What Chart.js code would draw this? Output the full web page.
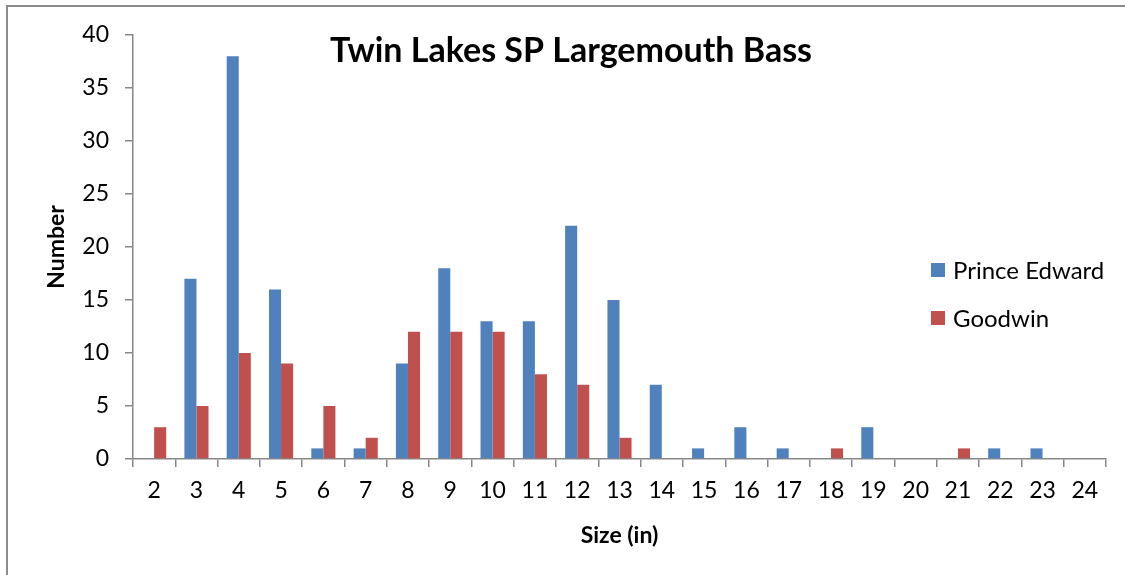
<!DOCTYPE html>
<html>
<head>
<meta charset="utf-8">
<script src="https://cdn.jsdelivr.net/npm/chart.js@4.4.1/dist/chart.umd.min.js"></script>
<style>
  html, body { margin: 0; padding: 0; background: #ffffff; }
  #wrap { position: relative; width: 1125px; height: 575px; }
</style>
</head>
<body>
<div id="wrap"><canvas id="bassChart" width="1125" height="575"></canvas></div>
<script>
// Chart data
const sizes = ['2', '3', '4', '5', '6', '7', '8', '9', '10', '11', '12', '13', '14', '15', '16', '17', '18', '19', '20', '21', '22', '23', '24'];
const princeEdward = [0, 17, 38, 16, 1, 1, 9, 18, 13, 13, 22, 15, 7, 1, 3, 1, 0, 3, 0, 0, 1, 1, 0];
const goodwin = [3, 5, 10, 9, 5, 2, 12, 12, 12, 8, 7, 2, 0, 0, 0, 0, 1, 0, 0, 1, 0, 0, 0];
const yTicks = [0, 5, 10, 15, 20, 25, 30, 35, 40];

const chartTitle = 'Twin Lakes SP Largemouth Bass';
const fontFamily = 'Lato, "Liberation Sans", sans-serif';
const axisGray = '#878787';

// Frame, title and legend drawn inside the plot, like the spreadsheet chart
const overlayPlugin = {
    id: 'overlay',
    beforeDraw(chart) {
        const ctx = chart.ctx;
        ctx.save();
        ctx.strokeStyle = '#8c8c8c';
        ctx.lineWidth = 2;
        ctx.strokeRect(7, 6, 1140, 600);
        ctx.restore();
    },
    afterDraw(chart) {
        const ctx = chart.ctx;
        ctx.save();
        ctx.fillStyle = '#000000';
        ctx.font = 'bold 34px ' + fontFamily;
        ctx.textAlign = 'center';
        ctx.textBaseline = 'middle';
        ctx.fillText(chartTitle, 571, 51);

        // legend
        ctx.font = '24px ' + fontFamily;
        ctx.textAlign = 'left';
        chart.data.datasets.forEach((ds, i) => {
            const y = 270 + i * 48;
            ctx.fillStyle = ds.backgroundColor;
            ctx.fillRect(931, y - 7, 14, 14);
            ctx.fillStyle = '#000000';
            ctx.fillText(ds.label, 953, y + 1);
        });
        ctx.restore();
    }
};

const chartCtx = document.getElementById('bassChart').getContext('2d');
const bassChart = new Chart(chartCtx, {
    type: 'bar',
    data: {
        labels: sizes,
        datasets: [
            {
                label: 'Prince Edward',
                data: princeEdward,
                backgroundColor: '#4F81BD',
                borderWidth: 0,
                categoryPercentage: 0.57,
                barPercentage: 1.0
            },
            {
                label: 'Goodwin',
                data: goodwin,
                backgroundColor: '#C0504D',
                borderWidth: 0,
                categoryPercentage: 0.57,
                barPercentage: 1.0
            }
        ]
    },
    options: {
        responsive: false,
        animation: false,
        layout: {
            padding: { left: 0, right: 19, top: 35, bottom: 0 }
        },
        plugins: {
            legend: { display: false },
            title: { display: false },
            tooltip: { enabled: false }
        },
        scales: {
            x: {
                offset: true,
                grid: {
                    offset: true,
                    drawOnChartArea: false,
                    drawTicks: true,
                    tickLength: 8,
                    color: axisGray,
                    lineWidth: 1.5
                },
                border: { color: axisGray, width: 1.5 },
                ticks: {
                    color: '#000000',
                    font: { family: fontFamily, size: 23 },
                    padding: 10,
                    maxRotation: 0,
                    autoSkip: false
                },
                title: {
                    display: true,
                    text: 'Size (in)',
                    color: '#000000',
                    font: { family: fontFamily, size: 23, weight: 'bold' },
                    padding: { top: 0, bottom: 26 }
                },
                afterFit(scale) {
                    scale.height = 116;
                }
            },
            y: {
                min: 0,
                max: 40,
                afterBuildTicks(scale) {
                    scale.ticks = yTicks.map(v => ({ value: v }));
                },
                grid: {
                    drawOnChartArea: false,
                    drawTicks: true,
                    tickLength: 8,
                    color: axisGray,
                    lineWidth: 1.5
                },
                border: { color: axisGray, width: 1.5 },
                ticks: {
                    color: '#000000',
                    font: { family: fontFamily, size: 23 },
                    padding: 16
                },
                title: {
                    display: true,
                    text: 'Number',
                    color: '#000000',
                    font: { family: fontFamily, size: 23, weight: 'bold' },
                    padding: { top: 43, bottom: 0 }
                },
                afterFit(scale) {
                    scale.width = 133;
                }
            }
        }
    },
    plugins: [overlayPlugin]
});
</script>
</body>
</html>
